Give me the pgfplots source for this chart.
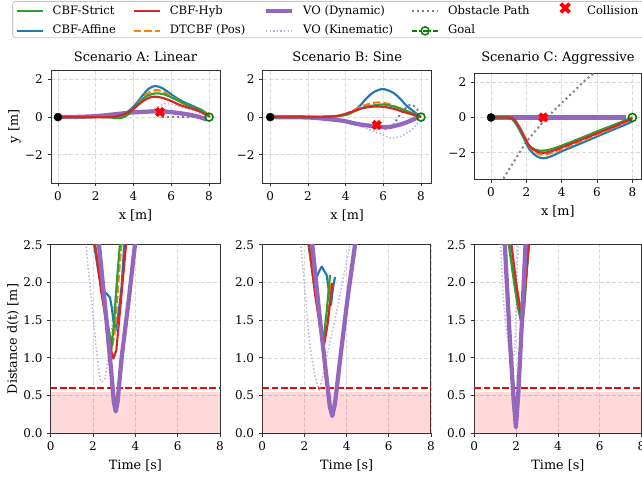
\documentclass[border=0pt]{standalone}
\usepackage{fontspec}
\setmainfont{DejaVu Serif}
\usepackage{pgfplots}
\pgfplotsset{compat=1.18}

\definecolor{cstrict}{HTML}{2CA02C}
\definecolor{caffine}{HTML}{1F77B4}
\definecolor{chyb}{HTML}{D62728}
\definecolor{cdt}{HTML}{FF7F0E}
\definecolor{cvo}{HTML}{9467BD}
\definecolor{cvok}{HTML}{C4ACDC}
\definecolor{cobs}{HTML}{7F7F7F}
\definecolor{cgoal}{HTML}{008000}

% legend text cell of fixed width, so the columns land where the reference has them
\newcommand{\lt}[2]{\makebox[#1][l]{\hspace{6.75pt}#2}}

\pgfplotsset{
  panel/.style={scale only axis, anchor=north west,
    axis line style={black!80, line width=0.7pt},
    grid=major, grid style={black!15, line width=0.5pt, dash pattern=on 3pt off 1.5pt},
    tick align=outside, tick pos=left, major tick length=2.6pt,
    tick style={black!80, line width=0.6pt},
    tick label style={font=\fontsize{9}{10}\selectfont},
    label style={font=\fontsize{9.6}{11}\selectfont},
    title style={font=\fontsize{9.75}{11}\selectfont, yshift=-3pt},
    ylabel shift=-3.5pt,
    /pgf/number format/assume math mode=true,
    xtick={0,2,4,6,8},
    every axis plot/.append style={line join=round}},
  traj/.style={panel, ymin=-3.5, ymax=2.5, ytick={-2,0,2}, yticklabels={−2,0,2},
    xlabel={x [m]}},
  dist/.style={panel, height=141.45pt, xmin=0, xmax=8, ymin=0, ymax=2.5,
    ytick={0,0.5,1,1.5,2,2.5}, yticklabels={0.0,0.5,1.0,1.5,2.0,2.5},
    xlabel={Time [s]}},
  obs/.style={cobs, line width=1.5pt, dash pattern=on 1.5pt off 2.3pt},
  vok/.style={cvok, line width=1.1pt, dash pattern=on 1.1pt off 1.6pt},
  vod/.style={cvo, line width=3.2pt, line join=round},
  caf/.style={caffine, line width=1.6pt},
  cdtb/.style={cdt, line width=1.6pt, dash pattern=on 5.5pt off 2.4pt},
  cst/.style={cstrict, line width=1.6pt},
  chy/.style={chyb, line width=1.6pt},
  startpt/.style={only marks, mark=*, black, mark size=3pt},
  goalpt/.style={only marks, mark=o, cgoal, mark size=3pt, mark options={line width=1.2pt}},
  collpt/.style={only marks, mark=x, red, mark size=3.9pt, mark options={line width=3pt}},
  safe/.style={red, line width=1.35pt, dash pattern=on 5pt off 2pt},
  unsafe/.style={fill=red, fill opacity=0.15, draw=none},
  legcoll/.style={legend image code/.code={%
      \node[inner sep=0pt, minimum width=19.5pt, minimum height=6pt, draw=none, fill=none] at (9.75pt,0pt)
        {\tikz\draw[red, line width=2.8pt] (-3.3pt,-3.3pt) -- (3.3pt,3.3pt) (-3.3pt,3.3pt) -- (3.3pt,-3.3pt);};}},
  leggoal/.style={legend image code/.code={\draw[##1, mark repeat=2, mark phase=2] plot coordinates {(0pt,0pt) (9.75pt,0pt) (19.5pt,0pt)};}},
}

\begin{document}
\begin{tikzpicture}
\useasboundingbox (0,0) rectangle (481.5pt,-357pt);
\clip (0,0) rectangle (481.5pt,-357pt);

% legend frame
\draw[black!22, line width=0.7pt, fill=white, rounded corners=2.5pt] (9.4pt,-1pt) rectangle (525pt,-28.3pt);

\begin{axis}[at={(0,0)}, anchor=north west, hide axis, scale only axis,
  width=481.5pt, height=30pt, xmin=0, xmax=1, ymin=0, ymax=1,
  legend columns=5, legend cell align=left,
  legend style={at={(0,1)}, anchor=north west, xshift=11.5pt, yshift=-4pt,
    draw=none, fill=none, inner sep=0pt, column sep=0pt, row sep=6.2pt,
    font=\fontsize{8.7}{10}\selectfont,
    nodes={inner sep=0pt, text height=6.5pt, text depth=2pt}},
  legend image code/.code={\draw[#1] (0pt,0pt) -- (19.5pt,0pt);},
]
\addlegendimage{cst}\addlegendentry{\lt{66.75pt}{CBF-Strict}}
\addlegendimage{chy}\addlegendentry{\lt{77.25pt}{CBF-Hyb}}
\addlegendimage{vod}\addlegendentry{\lt{87.75pt}{VO (Dynamic)}}
\addlegendimage{obs}\addlegendentry{\lt{84.75pt}{Obstacle Path}}
\addlegendimage{red, legcoll}
\addlegendentry{\lt{60pt}{Collision}}
\addlegendimage{caf}\addlegendentry{\lt{66.75pt}{CBF-Affine}}
\addlegendimage{cdtb}\addlegendentry{\lt{77.25pt}{DTCBF (Pos)}}
\addlegendimage{vok}\addlegendentry{\lt{87.75pt}{VO (Kinematic)}}
\addlegendimage{cgoal, line width=1.1pt, dash pattern=on 4pt off 1.5pt on 1pt off 1.5pt,
  mark=o, mark size=3pt, mark options={solid, line width=1.1pt}, leggoal}
\addlegendentry{\lt{84.75pt}{Goal}}
\end{axis}

% ---------- trajectories ----------
\begin{axis}[traj, at={(38.25pt,-52.5pt)}, width=126.75pt, height=84.75pt,
  xmin=-0.37, xmax=8.58, title={Scenario A: Linear}, ylabel={y [m]}]
\addplot[obs] coordinates {(7.2,0) (6.3,0) (5.4,0)};
\addplot[vok, smooth] coordinates {(0,0) (1,0.01) (2,0.05) (3,0.15) (4,0.25) (4.8,0.35) (5.3,0.55) (5.66,0.72) (6.0,0.67) (6.5,0.55) (7,0.4) (7.5,0.22) (8,0)};
\addplot[vod, smooth] coordinates {(0,0) (1,0.01) (2,0.05) (3,0.15) (4,0.25) (5,0.3) (5.4,0.32) (6,0.26) (6.5,0.2) (7,0.12) (7.5,0.0) (7.86,-0.12)};
\addplot[caf, smooth] coordinates {(0,0) (2,0) (2.9,0) (3.5,0.15) (4.0,0.55) (4.5,1.17) (4.8,1.5) (5.13,1.65) (5.5,1.55) (5.93,1.26) (6.3,1.0) (6.63,0.81) (7.0,0.65) (7.33,0.5) (7.6,0.38) (7.86,0.2) (8,0.05)};
\addplot[cdtb, smooth] coordinates {(0,0) (3,0) (3.5,0.1) (4.0,0.45) (4.5,1.05) (4.9,1.35) (5.2,1.43) (5.5,1.38) (6.0,1.1) (6.5,0.8) (7.0,0.55) (7.5,0.38) (7.9,0.15) (8,0.05)};
\addplot[cst, smooth] coordinates {(0,0) (2.5,0) (3.0,-0.05) (3.4,-0.03) (3.8,0.2) (4.2,0.65) (4.6,1.05) (5.0,1.23) (5.3,1.26) (5.7,1.18) (6.2,0.95) (6.7,0.7) (7.2,0.5) (7.6,0.35) (7.9,0.15) (8.05,0)};
\addplot[chy, smooth] coordinates {(0,0) (2.5,0) (3.0,0.02) (3.5,0.15) (4.0,0.45) (4.5,0.85) (4.9,1.05) (5.22,1.08) (5.6,1.0) (6.0,0.85) (6.46,0.64) (6.9,0.5) (7.33,0.37) (7.7,0.2) (8,0.05)};
\addplot[startpt] coordinates {(0,0)};
\addplot[goalpt] coordinates {(8,0)};
\addplot[collpt] coordinates {(5.4,0.27)};
\end{axis}

\begin{axis}[traj, at={(197.03pt,-52.5pt)}, width=126.75pt, height=84.75pt,
  xmin=-0.40, xmax=8.57, title={Scenario B: Sine}]
\addplot[obs, smooth] coordinates {(7.85,0.35) (7.5,0.67) (7.15,0.45) (6.8,0.0) (6.45,-0.55) (6.1,-0.62) (5.75,-0.45)};
\addplot[vok, smooth] coordinates {(0,0) (2,-0.02) (3,-0.1) (3.87,-0.2) (4.6,-0.4) (5.2,-0.65) (5.82,-0.87) (6.2,-1.05) (6.53,-1.13) (7.06,-0.96) (7.59,-0.6) (7.86,-0.25) (8,0)};
\addplot[vod, smooth] coordinates {(0,0) (2,-0.02) (3,-0.1) (3.87,-0.2) (4.59,-0.36) (5.2,-0.45) (5.65,-0.5) (6.0,-0.53) (6.35,-0.52) (6.8,-0.42) (7.24,-0.28) (7.6,-0.12) (7.86,0)};
\addplot[caf, smooth] coordinates {(0,0) (2,0) (3,0.02) (4,0.12) (4.4,0.3) (4.76,0.6) (5.1,0.99) (5.47,1.31) (5.97,1.49) (6.5,1.31) (6.88,0.99) (7.24,0.6) (7.68,0.25) (7.95,0.02)};
\addplot[cdtb, smooth] coordinates {(0,0) (3,0.02) (3.5,0.06) (4.0,0.15) (4.5,0.4) (5.0,0.62) (5.65,0.78) (6.2,0.72) (6.8,0.5) (7.3,0.3) (7.8,0.08) (8,0)};
\addplot[cst, smooth] coordinates {(0,0) (3,0.02) (4,0.12) (4.5,0.32) (5.0,0.52) (5.5,0.62) (6.0,0.67) (6.5,0.58) (7.0,0.42) (7.5,0.22) (8,0.02)};
\addplot[chy, smooth] coordinates {(0,0) (3.17,0.02) (3.8,0.12) (4.23,0.25) (4.8,0.45) (5.4,0.55) (5.82,0.56) (6.3,0.5) (6.7,0.4) (7.06,0.28) (7.5,0.15) (8,0)};
\addplot[startpt] coordinates {(0,0)};
\addplot[goalpt] coordinates {(8,0)};
\addplot[collpt] coordinates {(5.65,-0.42)};
\end{axis}

\begin{axis}[traj, at={(355.73pt,-54.98pt)}, width=125.4pt, height=79.5pt,
  xmin=-0.945, xmax=8.515, title={Scenario C: Aggressive}]
\addplot[obs] coordinates {(0.7,-3.45) (1.45,-2.25) (2.02,-1.35) (2.9,-0.3) (3.71,0.55) (4.65,1.44) (5.21,2.0) (5.8,2.5) (6.0,2.7)};
\addplot[vok] coordinates {(0,0) (7.7,0)};
\addplot[vod] coordinates {(0,0) (3,0) (7.66,0)};
\addplot[caf, smooth] coordinates {(0,0) (1.0,0) (1.26,-0.15) (1.5,-0.5) (1.82,-1.09) (2.2,-1.84) (2.6,-2.2) (2.96,-2.31) (3.4,-2.2) (4.08,-1.88) (5.0,-1.5) (5.97,-1.09) (7.0,-0.65) (7.85,-0.3) (8,-0.2)};
\addplot[cdtb, smooth] coordinates {(0,0) (1.0,0) (1.3,-0.12) (1.55,-0.5) (1.85,-1.05) (2.2,-1.7) (2.6,-2.02) (2.96,-2.12) (3.4,-2.02) (4.08,-1.75) (5,-1.38) (6,-0.98) (7,-0.55) (8,-0.1)};
\addplot[cst, smooth] coordinates {(0,0) (0.9,0) (1.2,-0.1) (1.45,-0.4) (1.75,-0.95) (2.1,-1.55) (2.5,-1.82) (2.9,-1.88) (3.4,-1.8) (4.08,-1.56) (5,-1.2) (5.97,-0.8) (7,-0.4) (8,0)};
\addplot[chy, smooth] coordinates {(0,0) (1.0,0) (1.3,-0.1) (1.55,-0.45) (1.85,-1.0) (2.2,-1.65) (2.6,-1.92) (2.96,-2.0) (3.4,-1.92) (4.08,-1.66) (5,-1.3) (6,-0.9) (7,-0.5) (8,-0.05)};
\addplot[startpt] coordinates {(0,0)};
\addplot[goalpt] coordinates {(8,0)};
\addplot[collpt] coordinates {(2.96,0)};
\end{axis}

% ---------- distance to obstacle ----------
\begin{axis}[dist, at={(38.03pt,-183.53pt)}, width=127pt, ylabel={Distance d(t) [m]}]
\addplot[unsafe] coordinates {(0,0.55) (8,0.55)} \closedcycle;
\addplot[safe] coordinates {(0,0.6) (8,0.6)};
\addplot[vok] coordinates {(1.6,3.0) (1.67,2.5) (1.8,2.1) (1.94,1.74) (2.17,1.08) (2.33,0.72) (2.41,0.68) (2.57,0.73) (2.8,1.17) (3.0,1.7) (3.12,2.0) (3.3,2.5) (3.4,2.8)};
\addplot[caf] coordinates {(1.8,3.0) (2.05,2.5) (2.25,2.15) (2.41,1.92) (2.55,1.87) (2.65,1.85) (2.8,1.8) (2.88,1.68) (2.96,1.5) (3.05,1.35) (3.15,1.5) (3.27,1.74) (3.35,1.95) (3.45,2.4) (3.5,2.6)};
\addplot[cdtb] coordinates {(1.8,3.0) (2.1,2.5) (2.4,1.9) (2.7,1.4) (2.9,1.12) (3.05,1.4) (3.25,2.2) (3.4,2.7)};
\addplot[cst] coordinates {(1.8,3.0) (2.1,2.5) (2.4,1.95) (2.7,1.45) (2.88,1.15) (3.0,1.5) (3.15,2.1) (3.27,2.5) (3.35,2.8)};
\addplot[chy] coordinates {(1.8,3.0) (2.09,2.5) (2.4,1.85) (2.7,1.35) (2.85,1.1) (2.96,0.99) (3.1,1.1) (3.3,1.7) (3.56,2.5) (3.65,2.8)};
\addplot[vod] coordinates {(2.1,3.0) (2.28,2.5) (2.6,1.6) (2.85,0.85) (2.98,0.42) (3.07,0.29) (3.16,0.42) (3.35,1.0) (3.7,1.8) (3.98,2.5) (4.1,2.8)};
\end{axis}

\begin{axis}[dist, at={(196.73pt,-183.53pt)}, width=126.5pt]
\addplot[unsafe] coordinates {(0,0.55) (8,0.55)} \closedcycle;
\addplot[safe] coordinates {(0,0.6) (8,0.6)};
\addplot[vok] coordinates {(1.75,3.0) (1.83,2.5) (2.0,1.95) (2.26,1.15) (2.5,0.75) (2.7,0.57) (2.9,0.8) (3.2,1.2) (3.44,1.5) (3.76,1.94) (4.16,2.5) (4.25,2.65)};
\addplot[caf] coordinates {(2.0,3.0) (2.2,2.5) (2.45,2.0) (2.55,2.05) (2.7,2.15) (2.82,2.21) (3.05,2.1) (3.18,1.85) (3.26,1.7) (3.32,1.85) (3.37,1.96) (3.45,2.07)};
\addplot[cdtb] coordinates {(2.0,3.0) (2.2,2.5) (2.5,1.88) (2.75,1.42) (2.92,1.2) (3.08,1.55) (3.25,2.0)};
\addplot[cst] coordinates {(2.0,3.0) (2.2,2.5) (2.5,1.9) (2.75,1.45) (2.9,1.24) (3.05,1.6) (3.21,2.1)};
\addplot[chy] coordinates {(2.0,3.0) (2.22,2.5) (2.5,1.85) (2.75,1.38) (2.93,1.17) (3.1,1.45) (3.32,1.99)};
\addplot[vod] coordinates {(2.2,3.0) (2.37,2.5) (2.7,1.6) (3.0,0.85) (3.2,0.36) (3.32,0.23) (3.45,0.4) (3.7,1.0) (4.05,1.8) (4.4,2.5) (4.5,2.7)};
\end{axis}

\begin{axis}[dist, at={(355.73pt,-183.53pt)}, width=125.4pt]
\addplot[unsafe] coordinates {(0,0.55) (8,0.55)} \closedcycle;
\addplot[safe] coordinates {(0,0.6) (8,0.6)};
\addplot[vok] coordinates {(1.2,3.0) (1.26,2.5) (1.38,1.81) (1.5,1.45) (1.7,1.04) (1.85,0.9) (1.95,1.2) (2.03,2.0) (2.1,2.5) (2.15,2.8)};
\addplot[caf] coordinates {(1.62,3.0) (1.7,2.5) (1.95,2.0) (2.18,1.7) (2.3,1.62) (2.42,1.9) (2.52,2.2) (2.62,2.5) (2.7,2.8)};
\addplot[cdtb] coordinates {(1.65,3.0) (1.75,2.5) (2.0,2.0) (2.2,1.65) (2.29,1.5) (2.42,1.85) (2.6,2.5)};
\addplot[cst] coordinates {(1.55,3.0) (1.65,2.5) (1.9,2.0) (2.1,1.65) (2.29,1.41) (2.4,1.7) (2.5,2.1) (2.58,2.5) (2.65,2.8)};
\addplot[chy] coordinates {(1.7,3.0) (1.78,2.5) (2.0,2.0) (2.15,1.7) (2.29,1.47) (2.4,1.8) (2.5,2.15) (2.61,2.5) (2.68,2.8)};
\addplot[vod] coordinates {(1.38,3.0) (1.46,2.5) (1.7,1.25) (1.88,0.45) (1.99,0.08) (2.1,0.5) (2.3,1.6) (2.45,2.5) (2.5,2.8)};
\end{axis}
\end{tikzpicture}
\end{document}
